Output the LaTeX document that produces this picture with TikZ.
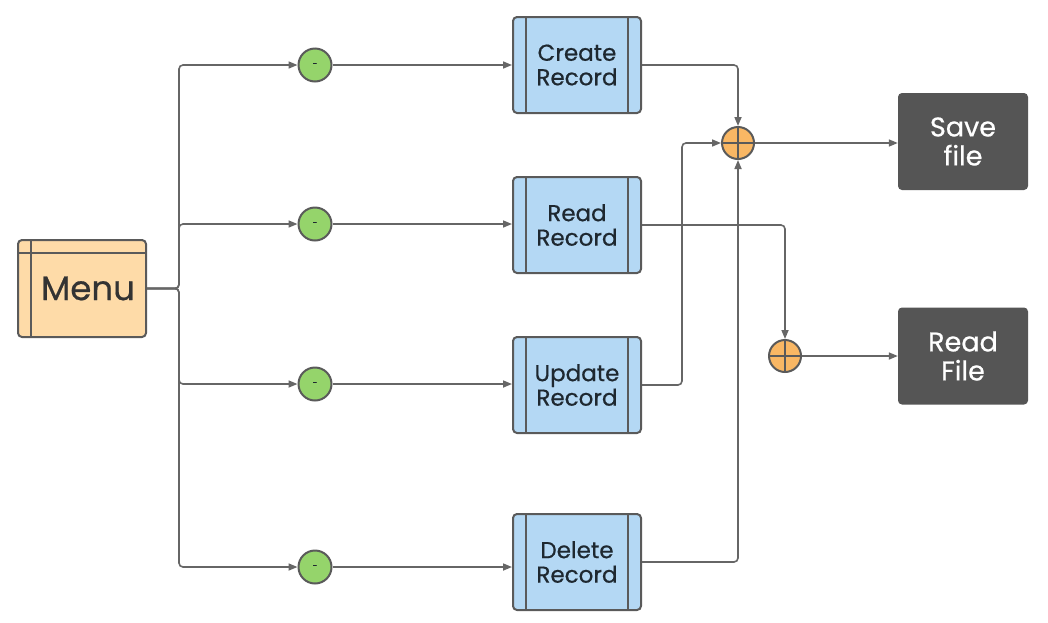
\documentclass[tikz,border=0pt]{standalone}
\usepackage{fontspec}
\setmainfont{Poppins}[FakeBold=0.6]
\usetikzlibrary{arrows.meta,calc}
\definecolor{linec}{HTML}{666666}
\definecolor{bordc}{HTML}{5A5A5A}
\definecolor{bluef}{HTML}{B4D8F4}
\definecolor{peachf}{HTML}{FEDBA8}
\definecolor{greenf}{HTML}{95D46B}
\definecolor{orangef}{HTML}{F9B764}
\definecolor{darkf}{HTML}{555555}
\definecolor{txtc}{HTML}{1E2830}
\tikzset{
  conn/.style={draw=linec,line width=1.6pt,rounded corners=4pt,-{Triangle[length=9pt,width=7pt]}},
  recbox/.style={draw=bordc,line width=2pt,fill=bluef,rounded corners=4pt,minimum width=128pt,minimum height=96pt,inner sep=0pt,align=center,text=txtc,font=\fontsize{23}{24.5}\selectfont,
    path picture={\draw[bordc,line width=2pt] ([xshift=13pt]path picture bounding box.north west) -- ([xshift=13pt]path picture bounding box.south west);
      \draw[bordc,line width=2pt] ([xshift=-13pt]path picture bounding box.north east) -- ([xshift=-13pt]path picture bounding box.south east);}},
  menubox/.style={draw=bordc,line width=2pt,fill=peachf,rounded corners=4pt,minimum width=128pt,minimum height=97pt,inner sep=0pt,text=black!80,font=\fontsize{34}{34}\selectfont,
    path picture={\draw[bordc,line width=2pt] ([xshift=13pt]path picture bounding box.north west) -- ([xshift=13pt]path picture bounding box.south west);
      \draw[bordc,line width=2pt] ([yshift=-13pt]path picture bounding box.north west) -- ([yshift=-13pt]path picture bounding box.north east);}},
  darkbox/.style={fill=darkf,rounded corners=4pt,minimum width=130pt,minimum height=97pt,inner sep=0pt,align=center,text=white,font=\fontsize{27}{29}\selectfont},
  gcirc/.style={circle,draw=bordc,line width=2pt,fill=greenf,minimum size=33pt,inner sep=0pt,font=\fontsize{9}{9}\selectfont,text=txtc},
  ocirc/.style={circle,draw=bordc,line width=2pt,fill=orangef,minimum size=32pt,inner sep=0pt,
    path picture={\draw[bordc,line width=2pt] (path picture bounding box.north) -- (path picture bounding box.south);
      \draw[bordc,line width=2pt] (path picture bounding box.west) -- (path picture bounding box.east);}}
}
\begin{document}
\begin{tikzpicture}[x=1pt,y=-1pt]
\useasboundingbox[fill=white] (0,0) rectangle (1048,622);
\node[menubox] (menu) at (82,288.5) {\hspace*{12pt}Menu};
\node[gcirc] (g1) at (315,65) {-};
\node[gcirc] (g2) at (315,224) {-};
\node[gcirc] (g3) at (315,384) {-};
\node[gcirc] (g4) at (315,567) {-};
\node[recbox] (cr) at (577,65) {Create\\Record};
\node[recbox] (rd) at (577,225) {Read\\Record};
\node[recbox] (up) at (577,385) {Update\\Record};
\node[recbox] (del) at (577,562) {Delete\\Record};
\node[ocirc] (o1) at (738,143) {};
\node[ocirc] (o2) at (785,356) {};
\node[darkbox] (save) at (963,141.5) {Save\\file};
\node[darkbox] (rfile) at (963,356) {Read\\File};
\coordinate (t1) at (179,65);
\coordinate (t2) at (179,224);
\coordinate (t3) at (179,384);
\coordinate (t4) at (179,567);
\draw[conn] (menu.east) -| (t1) -- (g1);
\draw[conn] (menu.east) -| (t2) -- (g2);
\draw[conn] (menu.east) -| (t3) -- (g3);
\draw[conn] (menu.east) -| (t4) -- (g4);
\draw[conn] (g1) -- (g1 -| cr.west);
\draw[conn] (g2) -- (g2 -| rd.west);
\draw[conn] (g3) -- (g3 -| up.west);
\draw[conn] (g4) -- (g4 -| del.west);
\draw[conn] (cr.east) -| (o1);
\coordinate (uc) at (682,385);
\draw[conn] (up.east) -- (uc) |- (o1);
\draw[conn] (del.east) -| (o1);
\draw[conn] (rd.east) -| (o2);
\draw[conn] (o1) -- (o1 -| save.west);
\draw[conn] (o2) -- (o2 -| rfile.west);
\end{tikzpicture}
\end{document}
